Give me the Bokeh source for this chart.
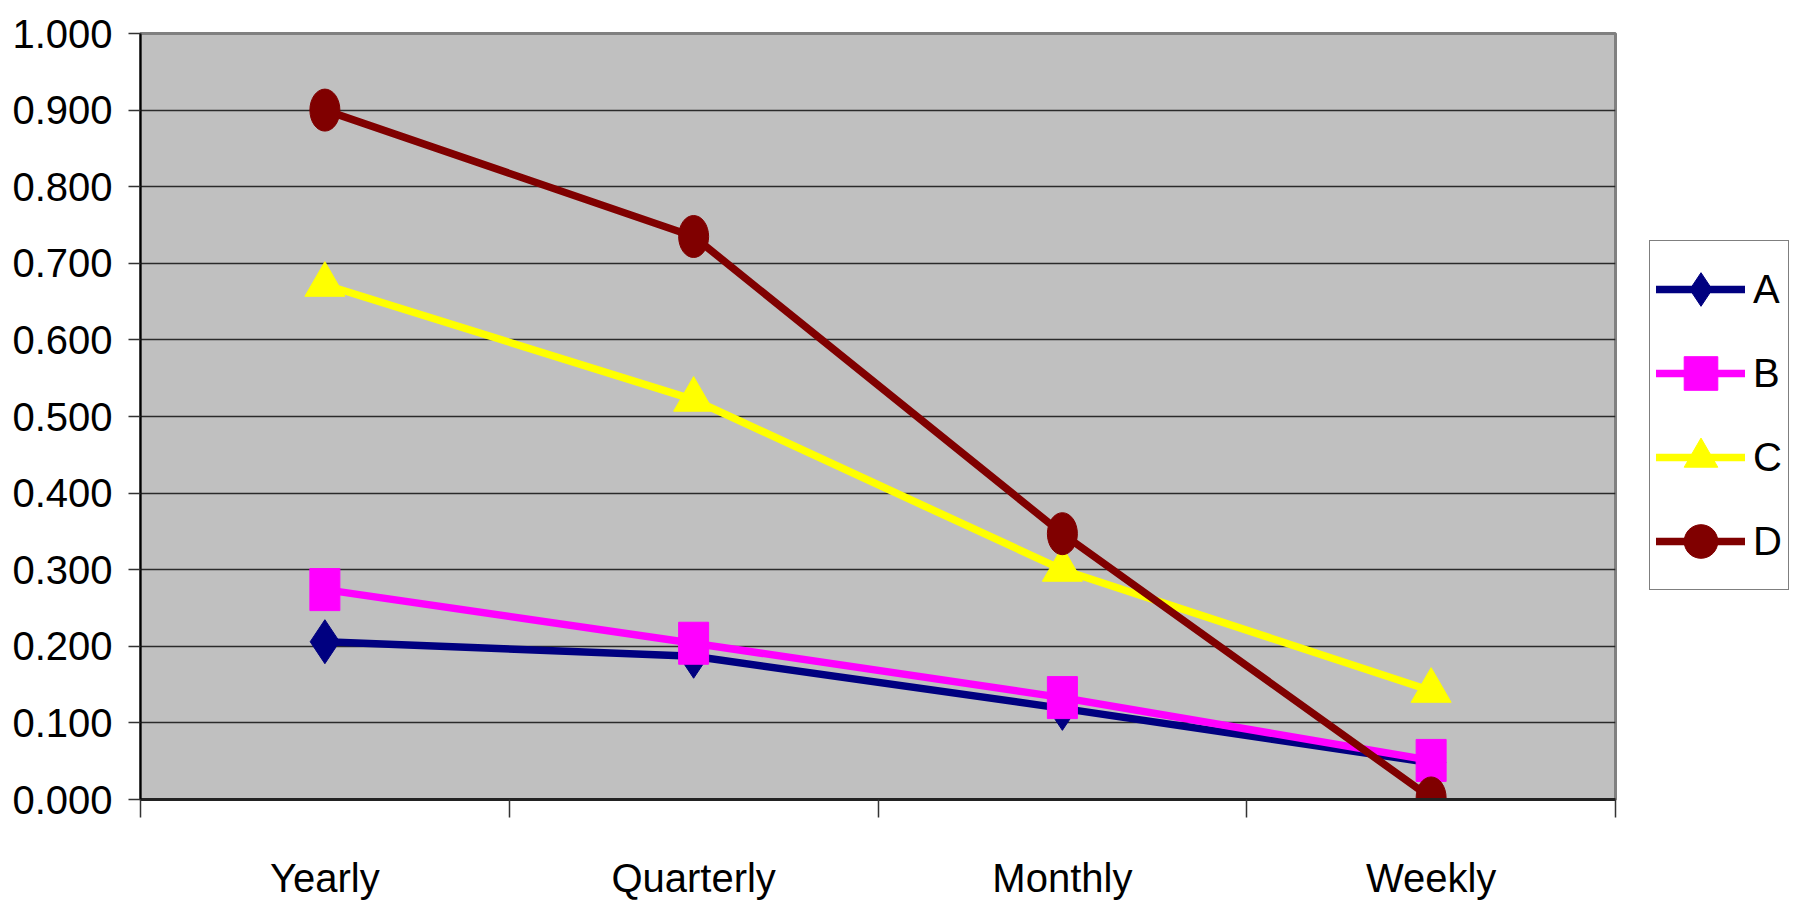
from bokeh.plotting import figure
from bokeh.models import Range1d, FixedTicker, Legend, LegendItem, NumeralTickFormatter
from bokeh.embed import file_html
from bokeh.resources import INLINE

categories = ["Yearly", "Quarterly", "Monthly", "Weekly"]
series_names = ["A", "B", "C", "D"]
values_A = [0.206, 0.187, 0.119, 0.048]
values_B = [0.274, 0.204, 0.133, 0.051]
values_C = [0.672, 0.522, 0.300, 0.142]
values_D = [0.900, 0.735, 0.347, 0.002]
y_ticks = [0.0, 0.1, 0.2, 0.3, 0.4, 0.5, 0.6, 0.7, 0.8, 0.9, 1.0]

FONT = "Liberation Sans"
FS = "40px"
colors = {"A": "#000080", "B": "#FF00FF", "C": "#FFFF00", "D": "#800000"}

xs = [i + 0.5 for i in range(len(categories))]

p = figure(output_backend="svg", toolbar_location=None,
           frame_width=1475, frame_height=766,
           min_border_left=140, min_border_top=33, min_border_right=187, min_border_bottom=98,
           x_range=Range1d(0, len(categories)), y_range=Range1d(0, 1),
           background_fill_color="#C0C0C0", border_fill_color="white")
p.styles = {"border-right": "2px solid black"}
p.outline_line_color = "#808080"
p.outline_line_width = 3

# grid
p.xgrid.visible = False
p.ygrid.grid_line_color = "#2a2a2a"
p.ygrid.grid_line_width = 1.5

# y axis
p.yaxis.ticker = FixedTicker(ticks=y_ticks)
p.yaxis.formatter = NumeralTickFormatter(format="0.000")
p.yaxis.major_tick_out = 12
p.yaxis.major_tick_in = 0
p.yaxis.minor_tick_out = 0
p.yaxis.minor_tick_in = 0
p.yaxis.major_label_standoff = 16
p.yaxis.axis_line_color = "black"
p.yaxis.axis_line_width = 2
p.yaxis.major_tick_line_color = "#333333"
p.yaxis.major_tick_line_width = 1.5
p.yaxis.major_label_text_font = FONT
p.yaxis.major_label_text_font_size = FS
p.yaxis.major_label_text_color = "black"

# x axis: labels at category centres, ticks at category boundaries
p.xaxis.ticker = FixedTicker(ticks=xs, minor_ticks=list(range(len(categories) + 1)))
p.xaxis.major_label_overrides = {x: c for x, c in zip(xs, categories)}
p.xaxis.major_tick_out = 0
p.xaxis.major_tick_in = 0
p.xaxis.minor_tick_out = 18
p.xaxis.minor_tick_in = 0
p.xaxis.minor_tick_line_color = "#333333"
p.xaxis.minor_tick_line_width = 1.5
p.xaxis.major_label_standoff = 38
p.xaxis.axis_line_color = "#222222"
p.xaxis.axis_line_width = 3
p.xaxis.major_label_text_font = FONT
p.xaxis.major_label_text_font_size = FS
p.xaxis.major_label_text_color = "black"

LW = 7.5
lA = p.line(xs, values_A, line_color=colors["A"], line_width=LW, line_cap="round", line_join="round")
mA = p.scatter(xs, values_A, marker="diamond", size=44, fill_color=colors["A"], line_color=colors["A"])

lB = p.line(xs, values_B, line_color=colors["B"], line_width=LW, line_cap="round", line_join="round")
p.rect(xs, values_B, width=30, height=42, width_units="screen", height_units="screen",
       fill_color=colors["B"], line_color=colors["B"])
mB = p.scatter(xs, values_B, marker="square", size=0, fill_color=colors["B"], line_color=colors["B"])

lC = p.line(xs, values_C, line_color=colors["C"], line_width=LW, line_cap="round", line_join="round")
mC = p.scatter(xs, values_C, marker="triangle", size=40, fill_color=colors["C"], line_color=colors["C"])

lD = p.line(xs, values_D, line_color=colors["D"], line_width=LW, line_cap="round", line_join="round")
p.ellipse(xs, values_D, width=30, height=42, width_units="screen", height_units="screen",
          fill_color=colors["D"], line_color=colors["D"])
mD = p.scatter(xs, values_D, marker="circle", size=0, fill_color=colors["D"], line_color=colors["D"])

legend = Legend(items=[LegendItem(label="A", renderers=[lA, mA]),
                       LegendItem(label="B", renderers=[lB, mB]),
                       LegendItem(label="C", renderers=[lC, mC]),
                       LegendItem(label="D", renderers=[lD, mD])],
                location=(34, 209))
legend.glyph_width = 89
legend.glyph_height = 84
legend.spacing = 0
legend.padding = 6
legend.margin = 0
legend.label_standoff = 8
legend.label_text_font = FONT
legend.label_text_font_size = FS
legend.label_text_color = "black"
legend.border_line_color = "black"
legend.border_line_width = 1.5
legend.background_fill_color = "white"
legend.background_fill_alpha = 1.0
p.add_layout(legend, "right")

open("out.html", "w").write(file_html(p, INLINE))
